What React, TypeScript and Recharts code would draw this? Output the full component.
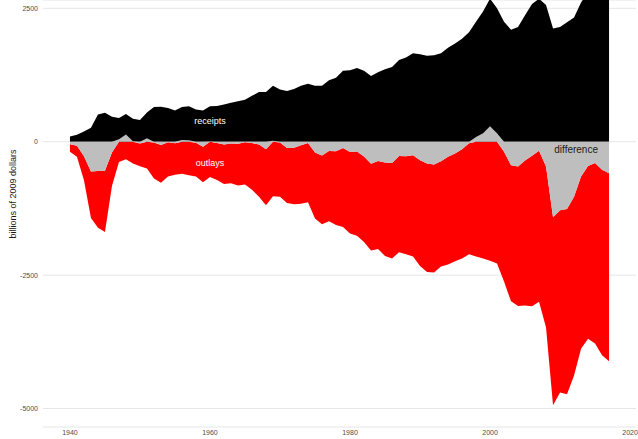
import React from 'react';
import { AreaChart, Area, XAxis, YAxis, CartesianGrid, ReferenceDot } from 'recharts';

// fiscal years shown on the chart
const years = [
  1940, 1941, 1942, 1943, 1944, 1945, 1946, 1947, 1948, 1949,
  1950, 1951, 1952, 1953, 1954, 1955, 1956, 1957, 1958, 1959,
  1960, 1961, 1962, 1963, 1964, 1965, 1966, 1967, 1968, 1969,
  1970, 1971, 1972, 1973, 1974, 1975, 1976, 1977, 1978, 1979,
  1980, 1981, 1982, 1983, 1984, 1985, 1986, 1987, 1988, 1989,
  1990, 1991, 1992, 1993, 1994, 1995, 1996, 1997, 1998, 1999,
  2000, 2001, 2002, 2003, 2004, 2005, 2006, 2007, 2008, 2009,
  2010, 2011, 2012, 2013, 2014, 2015, 2016, 2017,
];

// billions of 2009 dollars
const receipts = [
  100, 130, 190, 260, 508, 545, 470, 445, 520, 430,
  405, 550, 650, 655, 633, 585, 650, 665, 605, 585,
  665, 670, 700, 730, 760, 785, 860, 930, 930, 1050,
  980, 950, 990, 1050, 1085, 1050, 1050, 1150, 1200, 1330,
  1340, 1380, 1330, 1230, 1300, 1360, 1400, 1530, 1580, 1660,
  1640, 1610, 1620, 1660, 1760, 1840, 1930, 2050, 2250, 2440,
  2680, 2500, 2250, 2100, 2150, 2370, 2580, 2680, 2560, 2120,
  2150, 2240, 2330, 2610, 2800, 2970, 2950, 2950,
];

const outlays = [
  145, 205, 454, 870, 1060, 1145, 630, 380, 330, 410,
  428, 500, 675, 709, 639, 593, 600, 630, 629, 665,
  660, 692, 740, 747, 780, 791, 876, 976, 1050, 1020,
  1016, 1033, 1057, 1092, 1110, 1240, 1285, 1316, 1382, 1482,
  1529, 1578, 1604, 1625, 1649, 1750, 1790, 1802, 1840, 1896,
  1982, 2032, 2025, 1976, 2018, 2019, 2048, 2082, 2150, 2190,
  2230, 2280, 2430, 2550, 2615, 2720, 2821, 2833, 3014, 3527,
  3418, 3468, 3350, 3230, 3235, 3380, 3473, 3524,
];

const difference = [
  -45, -75, -270, -560, -550, -545, -200, 45, 135, 7,
  -32, 65, -15, -61, -11, -27, 34, 28, -21, -95,
  2, -23, -50, -33, -40, -9, -24, -54, -140, 18,
  -14, -117, -113, -68, -25, -200, -260, -174, -178, -118,
  -191, -182, -276, -415, -361, -390, -400, -268, -270, -254,
  -348, -408, -425, -364, -282, -221, -142, -28, 88, 160,
  290, 157, -190, -440, -465, -350, -264, -167, -466, -1413,
  -1282, -1262, -1030, -650, -455, -400, -527, -591,
];

const xTicks = [1940, 1960, 1980, 2000, 2020];
const yTicks = [-5000, -2500, 0, 2500];

// difference sits on zero, outlays are stacked below the deficit
const data = years.map((year, i) => {
  const d = difference[i];
  const low = Math.min(0, d);
  return {
    year,
    receipts: receipts[i],
    diffRange: [low, Math.max(0, d)],
    outRange: [low - outlays[i], low],
  };
});

const font = '"Liberation Sans", Arial, sans-serif';

const YTitle = () => (
  <text
    x={13}
    y={194}
    transform="rotate(-90 13 194)"
    textAnchor="middle"
    dominantBaseline="central"
    fontSize={9}
    fill="#1a1a1a"
    fontFamily={font}
  >
    billions of 2009 dollars
  </text>
);

export default function App() {
  return (
    <div style={{ position: 'absolute', left: 0, top: 0, background: '#fff' }}>
      <AreaChart
        width={638}
        height={439}
        data={data}
        margin={{ top: 0, right: 2, bottom: 0, left: 0 }}
        style={{ fontFamily: font }}
      >
        <CartesianGrid vertical={false} stroke="#e6e6e6" strokeWidth={1} />
        <XAxis
          dataKey="year"
          type="number"
          domain={[1936.15, 2020.85]}
          ticks={xTicks}
          axisLine={false}
          tickLine={false}
          tickSize={0}
          tickMargin={3}
          height={12}
          tick={{ fontSize: 7, fill: '#4d4d4d' }}
        />
        <YAxis
          type="number"
          domain={[-5346, 2656]}
          ticks={yTicks}
          allowDataOverflow
          axisLine={false}
          tickLine={false}
          tickSize={0}
          tickMargin={5}
          width={43}
          tick={{ fontSize: 7, fill: '#4d4d4d' }}
          label={{ content: () => <YTitle /> }}
        />
        <Area
          dataKey="receipts"
          baseValue={0}
          type="linear"
          stroke="none"
          fill="#000000"
          fillOpacity={1}
          isAnimationActive={false}
        />
        <Area
          dataKey="outRange"
          type="linear"
          stroke="none"
          fill="#ff0000"
          fillOpacity={1}
          isAnimationActive={false}
        />
        <Area
          dataKey="diffRange"
          type="linear"
          stroke="none"
          fill="#bebebe"
          fillOpacity={1}
          isAnimationActive={false}
        />
        <ReferenceDot
          x={1960}
          y={400}
          r={0}
          fill="none"
          stroke="none"
          label={{ value: 'receipts', position: 'center', fill: '#ffffff', fontSize: 9 }}
        />
        <ReferenceDot
          x={1960}
          y={-400}
          r={0}
          fill="none"
          stroke="none"
          label={{ value: 'outlays', position: 'center', fill: '#ffffff', fontSize: 9 }}
        />
        <ReferenceDot
          x={2012.3}
          y={-140}
          r={0}
          fill="none"
          stroke="none"
          label={{ value: 'difference', position: 'center', fill: '#1a1a1a', fontSize: 10 }}
        />
      </AreaChart>
    </div>
  );
}
